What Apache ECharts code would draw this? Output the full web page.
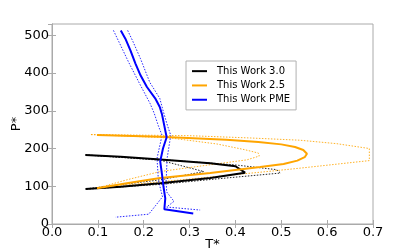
<!DOCTYPE html>
<html><head><meta charset="utf-8">
<script src="https://cdn.jsdelivr.net/npm/echarts@6/dist/echarts.min.js"></script>
<style>html,body{margin:0;padding:0;background:#fff}#c{width:415px;height:249px}</style>
</head><body><div id="c"></div>
<script>
// ---- data (T*, P*) ----
const xTicks = [0.0, 0.1, 0.2, 0.3, 0.4, 0.5, 0.6, 0.7];
const yTicks = [0, 100, 200, 300, 400, 500];
const legendNames = ['This Work 3.0', 'This Work 2.5', 'This Work PME'];

const w30 = [[0.073,183],[0.15,178],[0.236,171],[0.345,161],[0.40,153],[0.421,136],[0.345,122],[0.236,108],[0.15,99],[0.073,93]];
const w30Outer = [[0.073,183],[0.236,171],[0.396,157],[0.49,144],[0.498,135],[0.381,122],[0.236,105],[0.073,92]];
const w30Inner = [[0.073,183],[0.236,169],[0.331,139],[0.236,117],[0.073,93]];

const w25 = [[0.098,236],[0.236,231],[0.38,223],[0.45,217],[0.50,211],[0.53,204],[0.548,196],[0.556,186],[0.551,177],[0.535,168],[0.505,159],[0.454,151],[0.345,135],[0.236,122],[0.163,108],[0.098,95]];
const w25Inner = [[0.085,237],[0.258,228],[0.36,212],[0.42,197],[0.45,188],[0.452,180],[0.425,170],[0.345,157],[0.236,139],[0.163,117],[0.098,95]];
const w25Outer = [[0.085,237],[0.3,234],[0.432,228],[0.541,222],[0.62,213],[0.692,200],[0.692,168],[0.541,148],[0.469,139],[0.35,125],[0.236,112],[0.15,102],[0.098,95]];

const pme = [[0.150,513],[0.160,491],[0.171,460],[0.182,425],[0.193,394],[0.207,363],[0.225,333],[0.235,310],[0.240,290],[0.245,260],[0.250,230],[0.242,200],[0.236,166],[0.240,130],[0.243,100],[0.247,68],[0.245,39],[0.308,28]];
const pmeLow = [[0.134,513],[0.145,485],[0.167,429],[0.191,372],[0.214,319],[0.223,293],[0.232,260],[0.240,235],[0.229,174],[0.232,116],[0.241,72],[0.211,26],[0.138,18]];
const pmeHigh = [[0.165,513],[0.176,485],[0.193,438],[0.213,376],[0.235,333],[0.243,297],[0.252,260],[0.259,235],[0.251,174],[0.249,116],[0.250,85],[0.266,60],[0.250,45],[0.323,37]];

const FONT = 'DejaVu Sans';
const frame = '#aaaaaa';
function solid(name, data, color) {
  return {name, type:'line', data, symbol:'none', smooth:false, lineStyle:{color, width:2}, itemStyle:{color}, z:3};
}
function dotted(data, color) {
  return {type:'line', data, symbol:'none', lineStyle:{color, width:1, type:[1.5,1.5], opacity:0.85}, z:2, silent:true};
}
const chart = echarts.init(document.getElementById('c'), null, {renderer:'canvas'});
const axisCommon = {
  axisLine:{show:true, lineStyle:{color:frame, width:1}},
  axisTick:{show:true, inside:true, length:4, lineStyle:{color:frame}},
  splitLine:{show:false}
};
chart.setOption({
  animation:false,
  grid:{left:52, right:42, top:24, bottom:25, show:true, borderColor:frame, borderWidth:1, containLabel:false, outerBoundsMode:'none'},
  xAxis:[
    Object.assign({type:'value', min:0, max:0.7, interval:0.1, position:'bottom',
      name:'T*', nameLocation:'middle', nameGap:14, nameMoveOverlap:false,
      nameTextStyle:{fontFamily:FONT, fontSize:13, color:'#000'},
      axisLabel:{fontFamily:FONT, fontSize:13, color:'#000', margin:2, formatter:v=>v.toFixed(1)}}, axisCommon),
    Object.assign({type:'value', min:0, max:0.7, interval:0.1, position:'top', axisLabel:{show:false}}, axisCommon)
  ],
  yAxis:[
    Object.assign({type:'value', min:0, max:530, interval:100,
      name:'P*', nameLocation:'middle', nameGap:29, nameRotate:90, nameMoveOverlap:false,
      nameTextStyle:{fontFamily:FONT, fontSize:13, color:'#000'},
      axisLabel:{fontFamily:FONT, fontSize:13, color:'#000', margin:3, showMaxLabel:false}}, axisCommon),
    Object.assign({type:'value', min:0, max:530, interval:100, position:'right', axisLabel:{show:false}}, axisCommon)
  ],
  legend:{
    data:legendNames, orient:'vertical', left:186, top:61, width:109,
    backgroundColor:'#fff', borderColor:'#b0b0b0', borderWidth:1, borderRadius:0,
    padding:[4,6,4,6], itemGap:2, itemWidth:15, itemHeight:2, icon:'rect',
    textStyle:{fontFamily:FONT, fontSize:10, color:'#000', lineHeight:12.3, padding:[0,0,0,5]}
  },
  series:[
    dotted(w30Outer,'#000'), dotted(w30Inner,'#000'),
    dotted(w25Outer,'#ffa500'), dotted(w25Inner,'#ffa500'),
    dotted(pmeLow,'#0000ff'), dotted(pmeHigh,'#0000ff'),
    solid(legendNames[0], w30, '#000000'),
    solid(legendNames[1], w25, '#ffa500'),
    solid(legendNames[2], pme, '#0000ff')
  ]
});
</script></body></html>
